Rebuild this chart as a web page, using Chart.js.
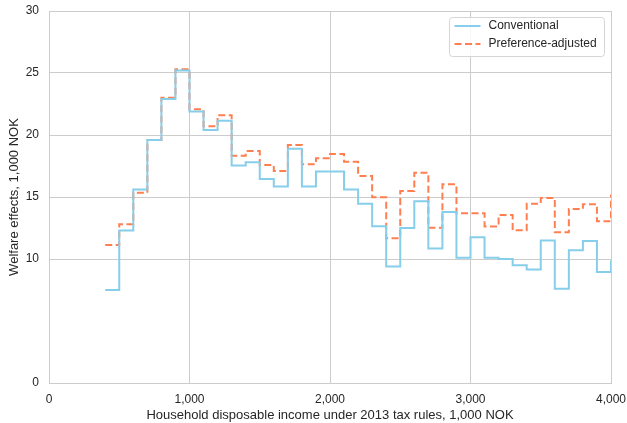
<!DOCTYPE html>
<html>
<head>
<meta charset="utf-8">
<script src="https://cdn.jsdelivr.net/npm/chart.js@4.4.1/dist/chart.umd.min.js"></script>
<style>
  html, body { margin: 0; padding: 0; background: #fff; }
  #wrap { width: 627px; height: 423px; position: relative; }
</style>
</head>
<body>
<div id="wrap"><canvas id="welfareChart"></canvas></div>
<script>
// income bins (left edge, 1,000 NOK); last entry closes the final step at 4,000
const incomeBins = [400, 500, 600, 700, 800, 900, 1000, 1100, 1200, 1300, 1400, 1500,
  1600, 1700, 1800, 1900, 2000, 2100, 2200, 2300, 2400, 2500, 2600, 2700, 2800,
  2900, 3000, 3100, 3200, 3300, 3400, 3500, 3600, 3700, 3800, 3900, 4000];

const conventional = [7.5, 12.3, 15.6, 19.6, 22.9, 25.2, 21.9, 20.4, 21.15, 17.55,
  17.8, 16.45, 15.85, 18.9, 15.85, 17.05, 17.05, 15.6, 14.45, 12.65, 9.4, 12.5,
  14.65, 10.85, 13.8, 10.1, 11.75, 10.1, 10.0, 9.5, 9.15, 11.5, 7.6, 10.7, 11.45,
  8.95, 9.9];

const preferenceAdjusted = [11.13, 12.8, 15.35, 19.6, 23.0, 25.3, 22.07, 20.7, 21.6,
  18.33, 18.7, 17.58, 17.1, 19.19, 17.64, 18.12, 18.47, 17.85, 16.7, 14.97, 11.67,
  15.48, 16.96, 12.52, 16.02, 13.68, 13.68, 12.63, 13.55, 12.31, 14.46, 14.92, 12.15,
  14.03, 14.41, 13.04, 15.2];

const yTicks = [0, 10, 15, 20, 25, 30];
const xTicks = [0, 1000, 2000, 3000, 4000];

const seriesNames = ['Conventional', 'Preference-adjusted'];

const BLUE = 'rgb(135, 206, 235)';
const ORANGE = 'rgb(255, 127, 80)';
const GRID = '#cccccc';
const TEXT = '#262626';

Chart.defaults.font.family = '"Liberation Sans", Arial, sans-serif';
Chart.defaults.font.size = 12;
Chart.defaults.color = TEXT;

const toPoints = values => values.map((v, i) => ({ x: incomeBins[i], y: v }));

// legend drawn as a boxed inset in the upper right, like the original figure
const insetLegend = {
  id: 'insetLegend',
  afterDraw(chart) {
    const ctx = chart.ctx;
    const box = { x: 449.5, y: 17.5, w: 155, h: 39 };
    ctx.save();
    ctx.fillStyle = 'rgba(255,255,255,0.85)';
    ctx.strokeStyle = '#d5d5d5';
    ctx.lineWidth = 1;
    ctx.beginPath();
    ctx.roundRect(box.x, box.y, box.w, box.h, 3);
    ctx.fill();
    ctx.stroke();

    chart.data.datasets.forEach((ds, i) => {
      const y = box.y + 8.5 + i * 18;
      ctx.strokeStyle = ds.borderColor;
      ctx.lineWidth = ds.borderWidth;
      ctx.setLineDash(ds.borderDash || []);
      ctx.beginPath();
      ctx.moveTo(box.x + 5, y);
      ctx.lineTo(box.x + 31, y);
      ctx.stroke();
      ctx.setLineDash([]);
      ctx.fillStyle = TEXT;
      ctx.font = '12px "Liberation Sans", Arial, sans-serif';
      ctx.textBaseline = 'middle';
      ctx.fillText(ds.label, box.x + 39, y);
    });
    ctx.restore();
  }
};

new Chart(document.getElementById('welfareChart'), {
  type: 'line',
  data: {
    datasets: [{
      label: seriesNames[0],
      data: toPoints(conventional),
      borderColor: BLUE,
      borderWidth: 2,
      stepped: 'before',
      pointRadius: 0,
      fill: false
    }, {
      label: seriesNames[1],
      data: toPoints(preferenceAdjusted),
      borderColor: ORANGE,
      borderWidth: 2,
      borderDash: [7, 3.5],
      stepped: 'before',
      pointRadius: 0,
      fill: false
    }]
  },
  options: {
    responsive: true,
    maintainAspectRatio: false,
    animation: false,
    layout: { padding: { top: 11, right: 16, left: 0, bottom: 0 } },
    plugins: {
      legend: { display: false },
      tooltip: { enabled: false }
    },
    scales: {
      x: {
        type: 'linear',
        min: 0,
        max: 4000,
        afterBuildTicks: axis => { axis.ticks = xTicks.map(v => ({ value: v })); },
        afterFit: axis => {
          axis.height = 40;
          axis.paddingLeft = 0;
          axis.paddingRight = 0;
        },
        grid: { color: GRID, lineWidth: 1, drawTicks: false },
        border: { color: GRID, width: 1 },
        ticks: {
          padding: 9,
          maxRotation: 0,
          color: TEXT,
          callback: v => v.toLocaleString('en-US')
        },
        title: {
          display: true,
          text: 'Household disposable income under 2013 tax rules, 1,000 NOK',
          font: { size: 13 },
          color: TEXT,
          padding: { top: 0, bottom: 0 }
        }
      },
      y: {
        min: 0,
        max: 30,
        afterBuildTicks: axis => { axis.ticks = yTicks.map(v => ({ value: v })); },
        afterFit: axis => {
          axis.width = 49;
          axis.paddingTop = 0;
          axis.paddingBottom = 0;
        },
        grid: { color: GRID, lineWidth: 1, drawTicks: false },
        border: { color: GRID, width: 1 },
        ticks: { padding: 10, color: TEXT },
        title: {
          display: true,
          text: 'Welfare effects, 1,000 NOK',
          font: { size: 13 },
          color: TEXT,
          padding: { top: 7, bottom: 0 }
        }
      }
    }
  },
  plugins: [insetLegend]
});
</script>
</body>
</html>
